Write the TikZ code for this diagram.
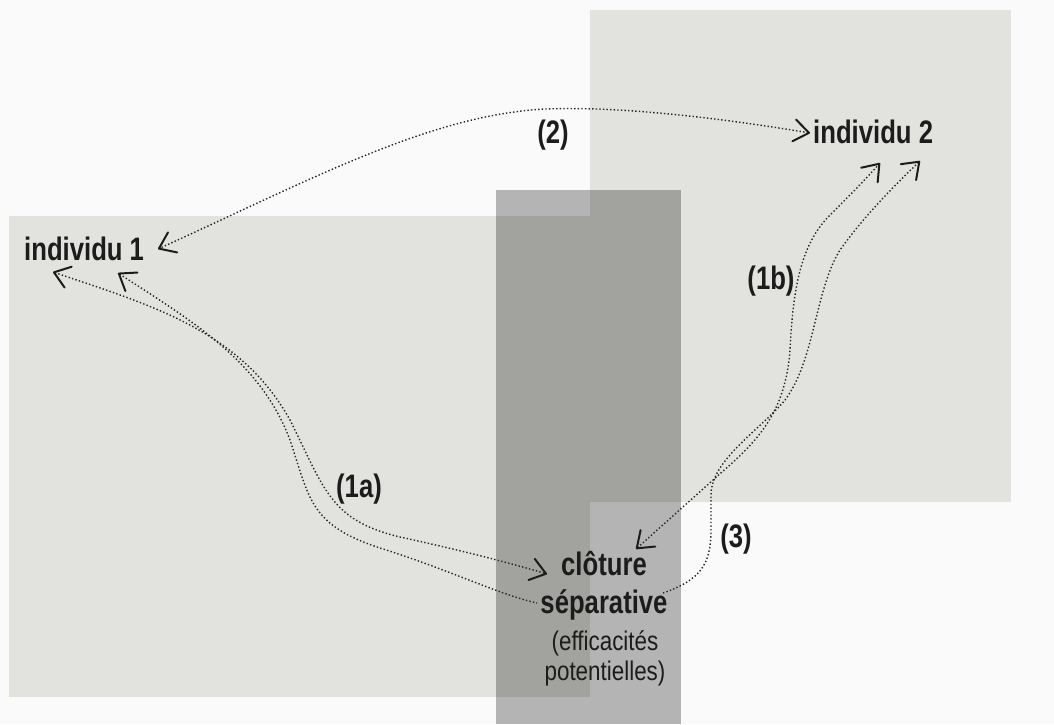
\documentclass[tikz,border=0pt]{standalone}
\usepackage{fontspec}
\newfontfamily\cond[FakeStretch=0.79]{Liberation Sans}
\newfontfamily\condr[FakeStretch=0.83]{Liberation Sans}
\usetikzlibrary{arrows.meta}
\definecolor{bgc}{HTML}{FAFAFA}
\definecolor{zone}{HTML}{E2E2DF}
\definecolor{fencedark}{HTML}{A2A29E}
\definecolor{fencelight}{HTML}{B4B4B4}
\definecolor{ink}{HTML}{1C1C1C}
\definecolor{dotc}{HTML}{262626}
\begin{document}
\begin{tikzpicture}[x=1pt,y=1pt,
  lbl/.style={font=\cond\bfseries\fontsize{32.5}{38}\selectfont, text=ink, inner sep=0pt},
  note/.style={font=\condr\fontsize{27}{30}\selectfont, text=ink, inner sep=0pt, align=center},
  dotline/.style={draw=dotc, line width=1.4pt, dash pattern=on 1.4pt off 2.2pt},
  >={Straight Barb[length=15pt,width=22pt,line width=2pt,round,color=ink]}]
\useasboundingbox (0,0) rectangle (1054,-724);
\fill[bgc] (0,0) rectangle (1054,-724);
\fill[zone] (9,-216) rectangle (589.5,-697);
\fill[zone] (589.5,-10) rectangle (1011,-502);
\fill[fencelight] (496,-190) rectangle (681,-724);
\fill[fencedark] (589.5,-190) rectangle (681,-502);
\fill[fencedark] (496,-216) rectangle (589.5,-697);

\node[lbl, anchor=base west] (ind1) at (24,-260) {individu 1};
\node[lbl, anchor=base west] (ind2) at (813,-143) {individu 2};
\node[lbl, anchor=base, align=center] (clot) at (604,-613) {clôture\\séparative};
\node[note, anchor=base] (eff) at (605,-680) {(efficacités\\potentielles)};
\node[lbl, anchor=base] (l2) at (553,-143) {(2)};
\node[lbl, anchor=base] (l1a) at (359,-497) {(1a)};
\node[lbl, anchor=base] (l1b) at (771,-289) {(1b)};
\node[lbl, anchor=base] (l3) at (736,-547) {(3)};

% (2)
\draw[dotline, <->] ([shift={(-3,10)}]ind2.base west) .. controls (720,-118) and (620,-106) .. (545,-109) .. controls (430,-115) and (310,-180) .. ([shift={(134,11)}]ind1.base west);
% (1a)
\draw[dotline, <->] ([shift={(29,-12)}]ind1.base west) .. controls (150,-305) and (240,-330) .. (290,-420) .. controls (325,-490) and (330,-520) .. (400,-537) .. controls (460,-550) and (510,-563) .. ([shift={(-57,39)}]clot.base);
% (3) left part
\draw[dotline, <-] ([shift={(94,-13)}]ind1.base west) .. controls (190,-320) and (260,-360) .. (290,-440) .. controls (310,-500) and (310,-525) .. (380,-548) .. controls (450,-570) and (500,-595) .. ([shift={(-67,10)}]clot.base);
% (3) right part
\draw[dotline, ->] ([shift={(59,20)}]clot.base) .. controls (700,-580) and (711,-565) .. (711,-530) -- (711,-495) .. controls (711,-460) and (760,-430) .. (785,-400) .. controls (815,-360) and (815,-290) .. (840,-250) .. controls (865,-215) and (895,-185) .. ([shift={(107,-18)}]ind2.base west);
% (1b)
\draw[dotline, <->] ([shift={(32,64)}]clot.base) -- (713,-480) .. controls (750,-447) and (785,-420) .. (790,-350) .. controls (793,-290) and (800,-245) .. (830,-215) .. controls (850,-195) and (865,-180) .. ([shift={(67,-20)}]ind2.base west);
\end{tikzpicture}
\end{document}
